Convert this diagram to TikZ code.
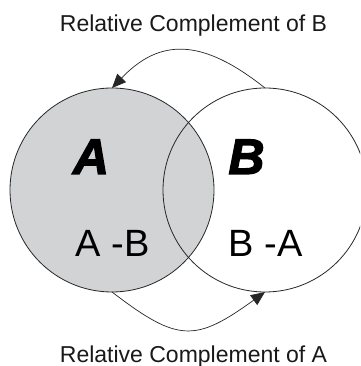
\documentclass[tikz,border=0pt]{standalone}
\usepackage{fontspec}
\setmainfont{Liberation Sans}
\newfontfamily\heavyfont[FakeBold=2.5]{Liberation Sans Bold Italic}
\usetikzlibrary{arrows.meta}
\definecolor{setgray}{RGB}{209,211,212}
\begin{document}
\begin{tikzpicture}[x=1pt,y=1pt,
  setcircle/.style={circle,draw=black!85,line width=0.8pt,minimum size=204pt,inner sep=0pt,outer sep=0pt},
  arr/.style={draw=black!85,line width=0.7pt,-{Triangle[length=14pt,width=12pt]}},
  lbl/.style={font=\fontsize{23}{26}\selectfont,anchor=base,inner sep=0pt,text=black!90},
  diff/.style={font=\fontsize{38}{42}\selectfont,anchor=base,inner sep=0pt,text=black},
  setname/.style={font=\fontsize{50}{54}\selectfont\heavyfont,anchor=base,inner sep=0pt,text=black}]
\useasboundingbox (0,0) rectangle (360,366);
\clip (0,0) rectangle (360,366);
\node[setcircle,fill=setgray] (A) at (112,176) {};
\node[setcircle] (B) at (265,176) {};
\node[setname] (nA) at (91,192) {A};
\node[setname] (nB) at (246.5,192) {B};
\node[diff] (dA) at (112.5,109) {A -B};
\node[diff] (dB) at (265.5,109) {B -A};
\node[lbl] (top) at (193.5,334.5) {Relative Complement of B};
\node[lbl] (bot) at (193.5,4) {Relative Complement of A};
\draw[arr] (B.north) .. controls (202,328) and (160,328) .. (A.north);
\draw[arr] (A.south) .. controls (178,23.5) and (195,23.5) .. (B.south);
\end{tikzpicture}
\end{document}
